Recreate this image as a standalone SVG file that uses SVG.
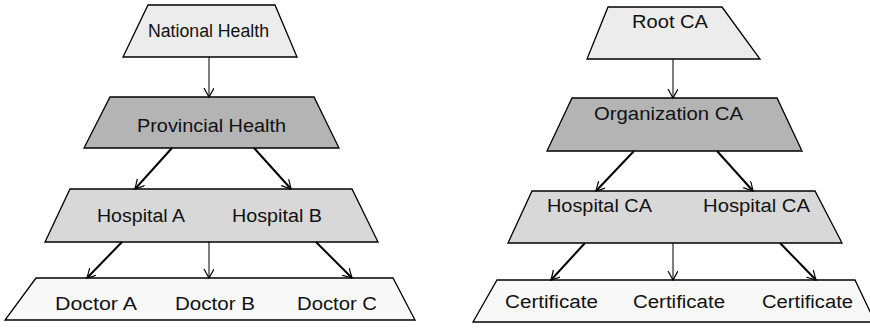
<svg xmlns="http://www.w3.org/2000/svg" width="870" height="334" viewBox="0 0 870 334">
  <style>
    .tier { stroke: #000; stroke-width: 1.3; stroke-linejoin: miter; }
    .t1 { fill: #ececec; }
    .t2 { fill: #b4b4b4; }
    .t3 { fill: #d8d8d8; }
    .t4 { fill: #f8f8f8; }
    .lbl { font-family: "Liberation Sans", Arial, sans-serif; font-size: 18px; fill: #111; }
    .edge { stroke: #000; fill: none; marker-end: url(#vhead); }
    .thin { stroke-width: 1; }
    .thick { stroke-width: 2; }
  </style>
  <defs>
    <marker id="vhead" markerUnits="userSpaceOnUse" markerWidth="12" markerHeight="12" refX="9" refY="5" orient="auto">
      <path d="M0,0 L9,5 L0,10" fill="none" stroke="#000" stroke-width="1.2"/>
    </marker>
  </defs>

  <!-- Left hierarchy: health organisations -->
  <g id="national-health">
    <polygon class="tier t1" points="148,5 275,5 297,57 123,57"/>
    <text class="lbl" x="148" y="37" font-size="17" textLength="121" lengthAdjust="spacingAndGlyphs">National Health</text>
  </g>
  <g id="provincial-health">
    <polygon class="tier t2" points="110,97 314,97 339,148 84,148"/>
    <text class="lbl" x="137" y="132" textLength="149" lengthAdjust="spacingAndGlyphs">Provincial Health</text>
  </g>
  <g id="hospitals">
    <polygon class="tier t3" points="70,189 352,189 378,242 45,242"/>
    <text class="lbl" x="97" y="222" textLength="88" lengthAdjust="spacingAndGlyphs">Hospital A</text>
    <text class="lbl" x="232" y="222" textLength="90" lengthAdjust="spacingAndGlyphs">Hospital B</text>
  </g>
  <g id="doctors">
    <polygon class="tier t4" points="36,278 393,278 415,320 5,320"/>
    <text class="lbl" x="55" y="310" textLength="82" lengthAdjust="spacingAndGlyphs">Doctor A</text>
    <text class="lbl" x="175" y="310" textLength="80" lengthAdjust="spacingAndGlyphs">Doctor B</text>
    <text class="lbl" x="297" y="310" textLength="80" lengthAdjust="spacingAndGlyphs">Doctor C</text>
  </g>

  <!-- Right hierarchy: certificate authorities -->
  <g id="root-ca">
    <polygon class="tier t1" points="608,7 722,7 760,59 587,59"/>
    <text class="lbl" x="632" y="28" font-size="20" textLength="76" lengthAdjust="spacingAndGlyphs">Root CA</text>
  </g>
  <g id="organization-ca">
    <polygon class="tier t2" points="572,98 777,98 802,151 547,151"/>
    <text class="lbl" x="594" y="120" textLength="149" lengthAdjust="spacingAndGlyphs">Organization CA</text>
  </g>
  <g id="hospital-cas">
    <polygon class="tier t3" points="532,191 815,191 842,243 508,243"/>
    <text class="lbl" x="547" y="212" textLength="105" lengthAdjust="spacingAndGlyphs">Hospital CA</text>
    <text class="lbl" x="703" y="212" textLength="107" lengthAdjust="spacingAndGlyphs">Hospital CA</text>
  </g>
  <g id="certificates">
    <polygon class="tier t4" points="497,280 855,280 875,322 473,322"/>
    <text class="lbl" x="505" y="308" textLength="93" lengthAdjust="spacingAndGlyphs">Certificate</text>
    <text class="lbl" x="633" y="308" textLength="92" lengthAdjust="spacingAndGlyphs">Certificate</text>
    <text class="lbl" x="762" y="308" textLength="91" lengthAdjust="spacingAndGlyphs">Certificate</text>
  </g>

  <!-- Connectors -->
  <g id="connectors">
    <line class="edge thin" x1="209" y1="57" x2="209" y2="97"/>
    <line class="edge thick" x1="172" y1="148" x2="135" y2="189"/>
    <line class="edge thick" x1="254" y1="148" x2="291" y2="189"/>
    <line class="edge thick" x1="122" y1="242" x2="87" y2="278"/>
    <line class="edge thin" x1="209" y1="242" x2="209" y2="278"/>
    <line class="edge thick" x1="316" y1="242" x2="352" y2="278"/>

    <line class="edge thin" x1="673" y1="59" x2="673" y2="98"/>
    <line class="edge thick" x1="634" y1="151" x2="596" y2="191"/>
    <line class="edge thick" x1="717" y1="151" x2="753" y2="191"/>
    <line class="edge thick" x1="585" y1="243" x2="551" y2="280"/>
    <line class="edge thin" x1="673" y1="243" x2="673" y2="280"/>
    <line class="edge thick" x1="780" y1="243" x2="816" y2="280"/>
  </g>
</svg>
